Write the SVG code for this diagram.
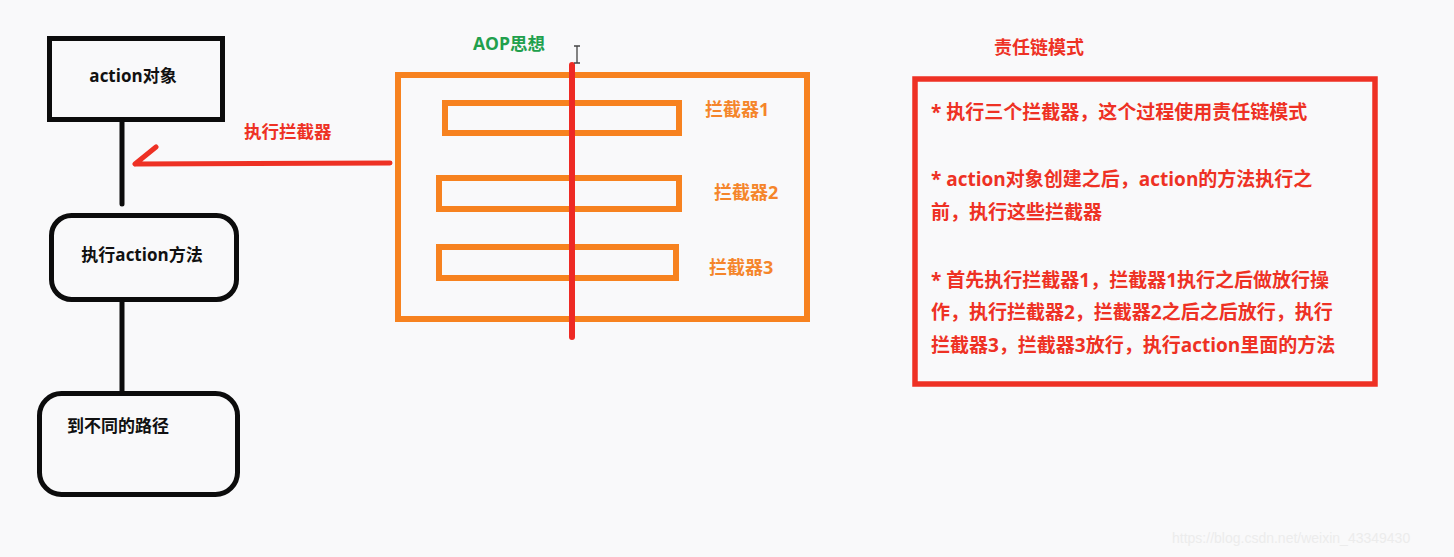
<svg xmlns="http://www.w3.org/2000/svg" width="1454" height="557" viewBox="0 0 1454 557">
<style>
text{font-family:"Open Sans","Noto Sans CJK SC",sans-serif;font-weight:bold}
.blk{fill:none;stroke:#0c0c0c;stroke-width:5}
.bt{fill:#111;font-size:17px}
.org{fill:none;stroke:#f7821f;stroke-width:6}
.ot{fill:#f5852a;font-size:18px}
.red{fill:none;stroke:#ee3124;stroke-width:5;stroke-linecap:round}
.rt{fill:#ee3124;font-size:19px}
</style>
<rect width="1454" height="557" fill="#f9f9fa"/>
<g id="action-object">
<rect class="blk" x="49.5" y="38.5" width="173" height="81"/>
<text class="bt" x="133" y="82" text-anchor="middle">action对象</text>
</g>
<g id="execute-action">
<rect class="blk" x="51.5" y="215.5" width="185" height="84" rx="20"/>
<text class="bt" x="142" y="261" text-anchor="middle">执行action方法</text>
</g>
<g id="different-path">
<rect class="blk" x="39.5" y="393.5" width="198" height="101" rx="22"/>
<text class="bt" x="67" y="432">到不同的路径</text>
</g>
<g id="aop">
<text x="473" y="50" fill="#21a04c" font-size="17.5">AOP思想</text>
<rect class="org" x="398" y="75" width="409" height="244"/>
</g>
<g id="interceptor1">
<rect class="org" x="445" y="103" width="234" height="30"/>
<text class="ot" x="705" y="116">拦截器1</text>
</g>
<g id="interceptor2">
<rect class="org" x="439" y="178" width="240" height="31"/>
<text class="ot" x="714" y="199">拦截器2</text>
</g>
<g id="interceptor3">
<rect class="org" x="439" y="247" width="237" height="31"/>
<text class="ot" x="709" y="274">拦截器3</text>
</g>
<g id="chain-of-responsibility">
<text x="994" y="54" fill="#ee3124" font-size="18">责任链模式</text>
<rect fill="none" stroke="#ee3124" stroke-width="5.5" x="915" y="79" width="460" height="305"/>
<text class="rt" x="931" y="119">* 执行三个拦截器，这个过程使用责任链模式</text>
<text class="rt" x="931" y="186">* action对象创建之后，action的方法执行之</text>
<text class="rt" x="931" y="219">前，执行这些拦截器</text>
<text class="rt" x="931" y="287">* 首先执行拦截器1，拦截器1执行之后做放行操</text>
<text class="rt" x="931" y="319">作，执行拦截器2，拦截器2之后之后放行，执行</text>
<text class="rt" x="931" y="352">拦截器3，拦截器3放行，执行action里面的方法</text>
</g>
<g id="connectors">
<line class="blk" x1="122" y1="120" x2="122" y2="204" stroke-linecap="round"/>
<line class="blk" x1="122" y1="300" x2="122" y2="392"/>
<path class="red" d="M390 163 L135 164 M135 164 L156 147"/>
<text x="244" y="138" fill="#ee3124" font-size="17.5">执行拦截器</text>
<line x1="572" y1="65" x2="572" y2="337" stroke="#ee2a24" stroke-width="6" stroke-linecap="round"/>
</g>
<path d="M574 46 H580 M577 46 V63 M574 63 H580" stroke="#444" stroke-width="1.3" fill="none"/>
<text x="1172" y="543" fill="#ececec" font-size="14" style="font-weight:normal;font-family:'Liberation Sans',sans-serif">https://blog.csdn.net/weixin_43349430</text>
</svg>
